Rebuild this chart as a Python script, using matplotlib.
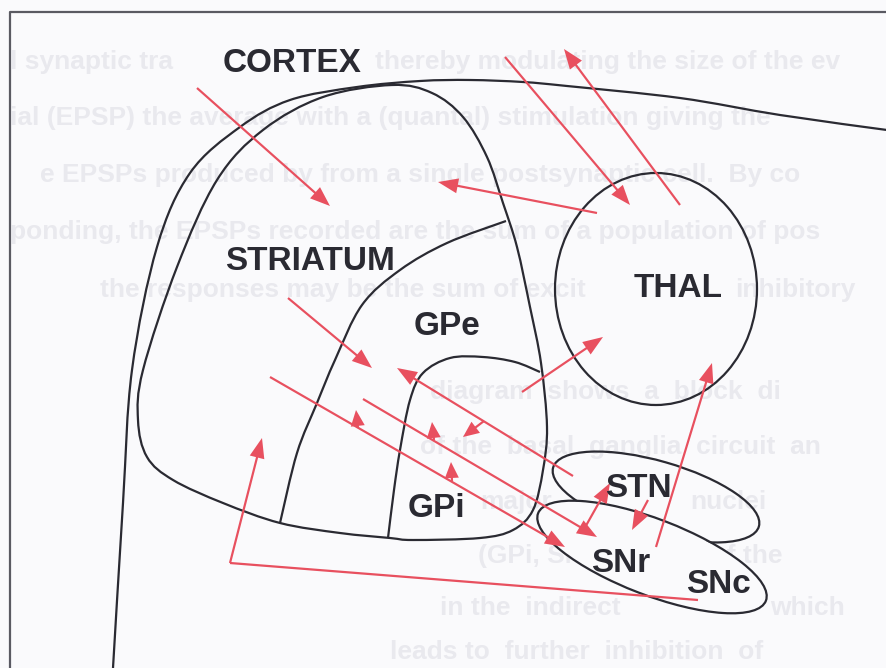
"""
Basal ganglia circuit diagram (scanned figure) redrawn with matplotlib.
Coordinates are image pixels, y pointing down.
"""

import numpy as np
import matplotlib.pyplot as plt
from matplotlib.path import Path
from matplotlib.patches import PathPatch, Ellipse

W, H = 887, 668

# --- outlines (points the curves pass through) ---
cortex_pts = [(113, 668), (123, 503), (132, 370), (157, 247), (190, 173), (240, 127),
              (290, 100), (357, 87), (420, 81), (470, 80), (523, 82), (567, 86),
              (680, 98), (780, 115), (887, 130)]
striatum_pts = [(392, 85), (323, 97), (263, 130), (217, 180), (177, 267), (143, 370),
                (138, 420), (147, 457), (173, 480), (223, 503), (280, 523), (340, 533),
                (390, 538), (413, 540), (480, 538), (513, 530), (533, 510), (543, 470),
                (547, 427), (541, 363), (530, 307), (517, 247), (503, 203), (487, 157),
                (463, 117), (432, 93), (392, 85)]
gpe_pts = [(506, 221), (447, 243), (400, 270), (362, 305), (335, 360), (317, 403),
           (297, 453), (280, 523)]
gpi_pts = [(388, 538), (394, 490), (400, 450), (410, 400), (423, 373), (450, 358),
           (483, 357), (515, 362), (540, 372)]

# ellipses: centre x, centre y, semi-major, semi-minor, tilt (deg)
thal_ell = (656, 289, 101, 116, 0)
stn_ell = (656, 497, 107, 36, 16)
sn_ell = (652, 557, 122, 38, 21)

# --- red projections: start -> tip ---
arrow_start = [(197, 88), (505, 57), (680, 205), (597, 213), (288, 298), (522, 392),
               (573, 476), (270, 377), (363, 399), (583, 531), (648, 500), (656, 547),
               (230, 563)]
arrow_tip = [(330, 206), (630, 205), (564, 49), (438, 182), (372, 368), (603, 337),
             (397, 368), (565, 547), (597, 537), (610, 483), (632, 530), (712, 363),
             (262, 438)]
# collateral heads sitting on the long lines
branch_start = [(358, 428), (452, 481), (434, 440), (484, 421)]
branch_tip = [(356, 410), (451, 462), (432, 422), (463, 437)]
# SNc line running under everything before turning up into the striatum
snc_line = [(698, 600), (230, 563)]

# --- labels ---
labels = ["CORTEX", "STRIATUM", "THAL", "GPe", "GPi", "STN", "SNr", "SNc"]
label_x = [292, 310, 678, 447, 436, 638, 621, 718]
label_base = [72, 270, 297, 335, 517, 497, 572, 593]

# faint text showing through from the other side of the page
ghost_text = [
    "l synaptic tra",
    "thereby modulating the size of the ev",
    "ial (EPSP) the average with a (quantal) stimulation giving the",
    "e EPSPs produced by from a single postsynaptic cell.  By co",
    "ponding, the EPSPs recorded are the sum of a population of pos",
    "the responses may be the sum of excit",
    "inhibitory",
    "diagram  shows  a  block  di",
    "of the  basal  ganglia  circuit  an",
    "major",
    "nuclei",
    "(GPi, SN",
    "put of the",
    "in the  indirect",
    "which",
    "leads to  further  inhibition  of",
]
ghost_x = [10, 375, 10, 40, 10, 100, 735, 430, 420, 480, 690, 478, 662, 440, 770, 390]
ghost_y = [62, 62, 118, 175, 232, 290, 290, 392, 447, 502, 502, 556, 556, 608, 608, 652]

RED = "#e8505f"
INK = "#2a2a32"
BG = "#fafafc"


def smooth_path(pts, closed=False):
    P = np.asarray(pts, float)
    if closed:
        P = np.vstack([P[-2], P, P[1]])
    else:
        P = np.vstack([P[0], P, P[-1]])
    verts = [P[1]]
    codes = [Path.MOVETO]
    for i in range(1, len(P) - 2):
        p0, p1, p2, p3 = P[i - 1], P[i], P[i + 1], P[i + 2]
        verts += [p1 + (p2 - p0) / 6, p2 - (p3 - p1) / 6, p2]
        codes += [Path.CURVE4] * 3
    return Path(verts, codes)


fig = plt.figure(figsize=(W / 100, H / 100), dpi=100, facecolor=BG)
ax = fig.add_axes([0, 0, 1, 1])
ax.set_xlim(0, W)
ax.set_ylim(H, 0)
ax.axis("off")

for s, x, y in zip(ghost_text, ghost_x, ghost_y):
    ax.text(x, y, s, fontsize=19, family="Liberation Sans", weight="bold",
            color="#e9e9ee", va="center", ha="left", zorder=0)

# page frame
ax.plot([10, 10, W], [H, 12, 12], color="#5a5a62", lw=1.6, zorder=1)

for pts, closed in [(cortex_pts, False), (striatum_pts, True), (gpe_pts, False), (gpi_pts, False)]:
    ax.add_patch(PathPatch(smooth_path(pts, closed), fill=False, ec=INK, lw=1.6, zorder=2))

cx, cy, a, b, t = thal_ell
ax.add_patch(Ellipse((cx, cy), 2 * a, 2 * b, angle=t, fill=False, ec=INK, lw=1.6, zorder=2))
cx, cy, a, b, t = stn_ell
ax.add_patch(Ellipse((cx, cy), 2 * a, 2 * b, angle=t, fill=False, ec=INK, lw=1.6, zorder=2))
cx, cy, a, b, t = sn_ell
# SN outline, plus a fill that hides the part of STN behind it
ax.add_patch(Ellipse((cx, cy), 2 * a - 2, 2 * b - 2, angle=t, fc=BG, ec="none", zorder=2.5))
ax.add_patch(Ellipse((cx, cy), 2 * a, 2 * b, angle=t, fc="none", ec=INK, lw=1.6, zorder=3))

ax.plot(*zip(*snc_line), color=RED, lw=1.6, zorder=4, solid_capstyle="butt")
for (x0, y0), (x1, y1) in zip(arrow_start, arrow_tip):
    ax.arrow(x0, y0, x1 - x0, y1 - y0, width=2.2, head_width=15, head_length=20,
             length_includes_head=True, color=RED, lw=0, zorder=4)
for (x0, y0), (x1, y1) in zip(branch_start, branch_tip):
    L = np.hypot(x1 - x0, y1 - y0)
    ax.arrow(x0, y0, x1 - x0, y1 - y0, width=2.2, head_width=14, head_length=min(16, L),
             length_includes_head=True, color=RED, lw=0, zorder=4)

for s, x, y in zip(labels, label_x, label_base):
    ax.text(x, y, s, fontsize=24, family="Liberation Sans", weight="bold",
            color=INK, ha="center", va="baseline", zorder=5)

plt.savefig("out.png", dpi=100, facecolor=BG)
